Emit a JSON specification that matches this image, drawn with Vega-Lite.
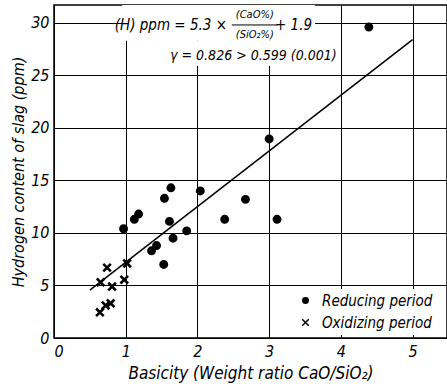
{
  "$schema": "https://vega.github.io/schema/vega-lite/v6.json",
  "width": 393,
  "height": 333,
  "autosize": "none",
  "padding": {"left": 54, "top": 5, "right": 0, "bottom": 52},
  "background": "white",
  "config": {
    "view": {"stroke": "black", "strokeWidth": 1.5},
    "font": "DejaVu Sans Condensed, Liberation Sans Narrow, sans-serif",
    "axis": {
      "domain": false, "ticks": false, "grid": true, "gridColor": "black", "gridOpacity": 1, "gridWidth": 1,
      "labelFont": "DejaVu Sans Condensed, Liberation Sans Narrow, sans-serif", "labelFontStyle": "italic", "labelFontSize": 16, "labelColor": "black",
      "titleFont": "DejaVu Sans Condensed, Liberation Sans Narrow, sans-serif", "titleFontStyle": "italic", "titleFontWeight": "normal", "titleFontSize": 16, "titleColor": "black"
    }
  },
  "datasets": {
    "pts": [
      {"basicity": 1.63, "h": 14.3, "period": "Reducing period"},
      {"basicity": 2.04, "h": 14.0, "period": "Reducing period"},
      {"basicity": 1.54, "h": 13.3, "period": "Reducing period"},
      {"basicity": 2.67, "h": 13.2, "period": "Reducing period"},
      {"basicity": 1.18, "h": 11.8, "period": "Reducing period"},
      {"basicity": 1.12, "h": 11.3, "period": "Reducing period"},
      {"basicity": 1.61, "h": 11.1, "period": "Reducing period"},
      {"basicity": 2.38, "h": 11.3, "period": "Reducing period"},
      {"basicity": 3.11, "h": 11.3, "period": "Reducing period"},
      {"basicity": 0.97, "h": 10.4, "period": "Reducing period"},
      {"basicity": 1.85, "h": 10.2, "period": "Reducing period"},
      {"basicity": 1.66, "h": 9.5, "period": "Reducing period"},
      {"basicity": 1.43, "h": 8.8, "period": "Reducing period"},
      {"basicity": 1.36, "h": 8.3, "period": "Reducing period"},
      {"basicity": 1.53, "h": 7.0, "period": "Reducing period"},
      {"basicity": 3.0, "h": 18.95, "period": "Reducing period"},
      {"basicity": 4.39, "h": 29.6, "period": "Reducing period"},
      {"basicity": 1.02, "h": 7.1, "period": "Oxidizing period"},
      {"basicity": 0.74, "h": 6.7, "period": "Oxidizing period"},
      {"basicity": 0.65, "h": 5.3, "period": "Oxidizing period"},
      {"basicity": 0.81, "h": 4.9, "period": "Oxidizing period"},
      {"basicity": 0.98, "h": 5.55, "period": "Oxidizing period"},
      {"basicity": 0.79, "h": 3.3, "period": "Oxidizing period"},
      {"basicity": 0.72, "h": 3.1, "period": "Oxidizing period"},
      {"basicity": 0.64, "h": 2.45, "period": "Oxidizing period"}
    ]
  },
  "layer": [
    {
      "data": {"values": [
        {"x": 0.95, "x2": 3.64, "y": 28.3, "y2": 31.7},
        {"x": 1.66, "x2": 3.9, "y": 25.9, "y2": 28.3}
      ]},
      "mark": {"type": "rect", "fill": "white"},
      "encoding": {
        "x": {"field": "x", "type": "quantitative", "scale": {"domain": [0, 5.48], "nice": false, "zero": false},
              "axis": {"values": [0, 1, 2, 3, 4, 5], "format": "d", "title": "Basicity (Weight ratio CaO/SiO₂)", "labelPadding": 5, "titlePadding": 6, "titleFontSize": 17}},
        "x2": {"field": "x2"},
        "y": {"field": "y", "type": "quantitative", "scale": {"domain": [0, 31.7], "nice": false, "zero": false},
              "axis": {"values": [0, 5, 10, 15, 20, 25, 30], "title": "Hydrogen content of slag (ppm)", "labelPadding": 5, "titlePadding": 4}},
        "y2": {"field": "y2"}
      }
    },
    {
      "data": {"values": [{"x": 0.5, "y": 4.55}, {"x": 5.0, "y": 28.4}]},
      "mark": {"type": "line", "color": "black", "strokeWidth": 1.5},
      "encoding": {
        "x": {"field": "x", "type": "quantitative"},
        "y": {"field": "y", "type": "quantitative"}
      }
    },
    {
      "data": {"name": "pts"},
      "mark": {"type": "point", "fill": "black", "stroke": "black", "strokeWidth": 2.6, "opacity": 1, "fillOpacity": 1, "size": 40},
      "encoding": {
        "x": {"field": "basicity", "type": "quantitative"},
        "y": {"field": "h", "type": "quantitative"},
        "shape": {"field": "period", "type": "nominal",
          "scale": {"domain": ["Reducing period", "Oxidizing period"], "range": ["circle", "M-1.2,-1.2L1.2,1.2M-1.2,1.2L1.2,-1.2"]},
          "legend": {"title": null, "orient": "none", "legendX": 240, "legendY": 284, "fillColor": "white", "padding": 4,
            "labelFont": "DejaVu Sans Condensed, Liberation Sans Narrow, sans-serif", "labelFontStyle": "italic", "labelFontSize": 15, "labelColor": "black",
            "symbolSize": 30, "rowPadding": 6, "labelOffset": 9,
            "encode": {"symbols": {"update": {"fill": {"value": "black"}, "stroke": {"value": "black"}, "strokeWidth": {"value": 1.3}, "opacity": {"value": 1}}}}}}
      }
    },
    {
      "data": {"values": [
        {"x": 1.63, "y": 29.8, "t": "(H) ppm = 5.3 ×", "s": 15},
        {"x": 2.80, "y": 30.75, "t": "(CaO%)", "s": 11},
        {"x": 2.80, "y": 28.85, "t": "(SiO₂%)", "s": 11},
        {"x": 3.34, "y": 29.8, "t": "+ 1.9", "s": 15},
        {"x": 2.78, "y": 26.8, "t": "γ = 0.826 > 0.599 (0.001)", "s": 14}
      ]},
      "mark": {"type": "text", "font": "DejaVu Sans Condensed, Liberation Sans Narrow, sans-serif", "fontStyle": "italic", "color": "black", "baseline": "middle", "align": "center"},
      "encoding": {
        "x": {"field": "x", "type": "quantitative"},
        "y": {"field": "y", "type": "quantitative"},
        "text": {"field": "t"},
        "size": {"field": "s", "type": "quantitative", "scale": null}
      }
    },
    {
      "data": {"values": [{"x": 2.48, "x2": 3.12, "y": 29.8}]},
      "mark": {"type": "rule", "color": "black", "strokeWidth": 1},
      "encoding": {
        "x": {"field": "x", "type": "quantitative"},
        "x2": {"field": "x2"},
        "y": {"field": "y", "type": "quantitative"}
      }
    }
  ]
}
